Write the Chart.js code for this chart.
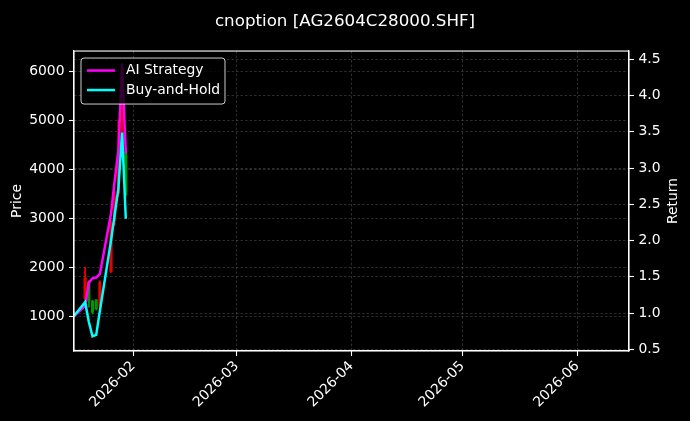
<!DOCTYPE html>
<html>
<head>
<meta charset="utf-8">
<script src="https://cdn.jsdelivr.net/npm/chart.js@4.4.1/dist/chart.umd.min.js"></script>
<style>
  html, body { margin: 0; padding: 0; background: #000; }
  #wrap { width: 690px; height: 421px; position: relative; background: #000; }
</style>
</head>
<body>
<div id="wrap"><canvas id="c"></canvas></div>
<script>
// ---- data ----
const dates      = ['2026-01-16','2026-01-19','2026-01-20','2026-01-21','2026-01-22','2026-01-23','2026-01-26','2026-01-27','2026-01-28','2026-01-29','2026-01-30'];
const openPrice  = [1000, 1350, 1700, 1300, 1330, 1200, 1900, 2950, 3500, 4300, 4350];
const highPrice  = [1080, 2000, 1720, 1320, 1340, 1720, 2950, 3550, 5000, 6150, 4420];
const lowPrice   = [ 960, 1320, 1180, 1040, 1120, 1150, 1890, 2850, 3450, 4250, 3450];
const closePrice = [1050, 1780, 1300, 1080, 1150, 1680, 2900, 3450, 4050, 5150, 3480];
const aiStrategy = [0.96, 1.10, 1.42, 1.48, 1.49, 1.54, 2.37, 2.83, 3.24, 4.44, 3.20];
const buyHold    = [0.96, 1.15, 0.88, 0.68, 0.70, 1.03, 2.00, 2.36, 2.72, 3.49, 2.30];
const monthTicks  = ['2026-02-01','2026-03-01','2026-04-01','2026-05-01','2026-06-01'];
const monthLabels = ['2026-02','2026-03','2026-04','2026-05','2026-06'];
const priceTicks  = [1000, 2000, 3000, 4000, 5000, 6000];
const returnTicks = [0.5, 1.0, 1.5, 2.0, 2.5, 3.0, 3.5, 4.0, 4.5];
const xStart = '2026-01-16';
const xEnd   = '2026-06-15';
const titleText = 'cnoption [AG2604C28000.SHF]';

// ---- helpers ----
function dayNum(s) {
  const [y, m, d] = s.split('-').map(Number);
  const [y0, m0, d0] = xStart.split('-').map(Number);
  return (Date.UTC(y, m - 1, d) - Date.UTC(y0, m0 - 1, d0)) / 86400000;
}
const FONT = 'DejaVu Sans';
const tickFont = { family: FONT, size: 13.9 };
const gridColor = 'rgba(140,140,140,0.45)';
const gridDash = [2.5, 2];
const RED = 'rgb(235,0,0)';
const GREEN = 'rgb(0,150,0)';
const candleColors = openPrice.map((o, i) => closePrice[i] >= o ? RED : GREEN);

const bodies = dates.map((d, i) => ({ x: dayNum(d), y: [Math.min(openPrice[i], closePrice[i]), Math.max(openPrice[i], closePrice[i])] }));
const wicks  = dates.map((d, i) => ({ x: dayNum(d), y: [lowPrice[i], highPrice[i]] }));
const aiPts  = dates.map((d, i) => ({ x: dayNum(d), y: aiStrategy[i] }));
const bhPts  = dates.map((d, i) => ({ x: dayNum(d), y: buyHold[i] }));

const overlay = {
  id: 'overlay',
  afterDatasetsDraw(chart) {
    const { ctx, chartArea: a } = chart;
    ctx.save();
    // spines
    ctx.strokeStyle = '#fff';
    ctx.lineWidth = 1.1;
    ctx.strokeRect(a.left, a.top, a.right - a.left, a.bottom - a.top);
    // legend (inside, upper left)
    const bx = a.left + 7, by = a.top + 7, bw = 144, bh = 46, r = 3;
    ctx.beginPath();
    ctx.moveTo(bx + r, by);
    ctx.lineTo(bx + bw - r, by); ctx.quadraticCurveTo(bx + bw, by, bx + bw, by + r);
    ctx.lineTo(bx + bw, by + bh - r); ctx.quadraticCurveTo(bx + bw, by + bh, bx + bw - r, by + bh);
    ctx.lineTo(bx + r, by + bh); ctx.quadraticCurveTo(bx, by + bh, bx, by + bh - r);
    ctx.lineTo(bx, by + r); ctx.quadraticCurveTo(bx, by, bx + r, by);
    ctx.closePath();
    ctx.fillStyle = 'rgba(0,0,0,0.8)';
    ctx.fill();
    ctx.strokeStyle = 'rgba(255,255,255,0.8)';
    ctx.lineWidth = 1;
    ctx.stroke();
    const items = [chart.data.datasets[0], chart.data.datasets[1]];
    ctx.font = '13.9px "' + FONT + '"';
    ctx.textBaseline = 'middle';
    ctx.textAlign = 'left';
    items.forEach((ds, i) => {
      const yy = by + 12.5 + i * 19.5;
      ctx.strokeStyle = ds.borderColor;
      ctx.lineWidth = 2.5;
      ctx.beginPath(); ctx.moveTo(bx + 6, yy); ctx.lineTo(bx + 34, yy); ctx.stroke();
      ctx.fillStyle = '#fff';
      ctx.fillText(ds.label, bx + 45, yy);
    });
    ctx.restore();
  },
  afterDraw(chart) {
    const { ctx, chartArea: a } = chart;
    ctx.save();
    ctx.fillStyle = '#fff';
    ctx.font = '13.9px "' + FONT + '"';
    ctx.textAlign = 'center';
    ctx.textBaseline = 'middle';
    ctx.translate(673, (a.top + a.bottom) / 2);
    ctx.rotate(-Math.PI / 2);
    ctx.fillText('Return', 0, 0);
    ctx.restore();
  }
};

new Chart(document.getElementById('c'), {
  type: 'line',
  data: {
    datasets: [
      { type: 'line', label: 'AI Strategy', data: aiPts, yAxisID: 'y1', xAxisID: 'x',
        borderColor: '#ff00ff', backgroundColor: '#ff00ff', borderWidth: 2.5, pointRadius: 0, tension: 0, order: 1 },
      { type: 'line', label: 'Buy-and-Hold', data: bhPts, yAxisID: 'y1', xAxisID: 'x',
        borderColor: '#00ffff', backgroundColor: '#00ffff', borderWidth: 2.5, pointRadius: 0, tension: 0, order: 0 },
      { type: 'bar', label: 'body', data: bodies, yAxisID: 'y', xAxisID: 'x',
        backgroundColor: candleColors, borderWidth: 0, barThickness: 2.5, grouped: false, order: 3 },
      { type: 'bar', label: 'wick', data: wicks, yAxisID: 'y', xAxisID: 'x',
        backgroundColor: candleColors, borderWidth: 0, barThickness: 1.2, grouped: false, order: 4 }
    ]
  },
  options: {
    responsive: true,
    maintainAspectRatio: false,
    animation: false,
    events: [],
    layout: { padding: 0 },
    plugins: {
      legend: { display: false },
      tooltip: { enabled: false },
      title: { display: true, text: titleText, color: '#fff',
               font: { family: FONT, size: 16.7, weight: 'normal' }, padding: { top: 12, bottom: 19 } }
    },
    scales: {
      x: {
        type: 'linear', position: 'bottom', min: 0, max: dayNum(xEnd), offset: false,
        afterBuildTicks: s => { s.ticks = monthTicks.map(t => ({ value: dayNum(t) })); },
        afterFit: s => { s.height = 70; },
        grid: { color: gridColor, lineWidth: 0.7, offset: false, drawTicks: true, tickLength: 5, tickColor: '#fff', tickWidth: 1.1 },
        border: { display: true, color: '#fff', width: 1.1, dash: gridDash },
        ticks: { color: '#fff', font: tickFont, autoSkip: false, minRotation: 45, maxRotation: 45, padding: 2,
                 callback: (v, i) => monthLabels[i] }
      },
      y: {
        type: 'linear', position: 'left', min: 286, max: 6408, beginAtZero: false,
        afterBuildTicks: s => { s.ticks = priceTicks.map(v => ({ value: v })); },
        afterFit: s => { s.width = 74; },
        grid: { color: gridColor, lineWidth: 0.7, drawTicks: true, tickLength: 5, tickColor: '#fff', tickWidth: 1.1 },
        border: { display: true, color: '#fff', width: 1.1, dash: gridDash },
        ticks: { color: '#fff', font: tickFont, padding: 4.5, callback: v => String(v) },
        title: { display: true, text: 'Price', color: '#fff', font: tickFont, padding: { top: 8.7, bottom: 0 } }
      },
      y1: {
        type: 'linear', position: 'right', min: 0.477, max: 4.614, beginAtZero: false,
        afterBuildTicks: s => { s.ticks = returnTicks.map(v => ({ value: v })); },
        afterFit: s => { s.width = 61; },
        grid: { color: gridColor, lineWidth: 0.7, drawOnChartArea: true, drawTicks: true, tickLength: 5, tickColor: '#fff', tickWidth: 1.1 },
        border: { display: true, color: '#fff', width: 1.1, dash: gridDash },
        ticks: { color: '#fff', font: tickFont, padding: 4.5, callback: v => v.toFixed(1) }
      }
    }
  },
  plugins: [overlay]
});
</script>
</body>
</html>
